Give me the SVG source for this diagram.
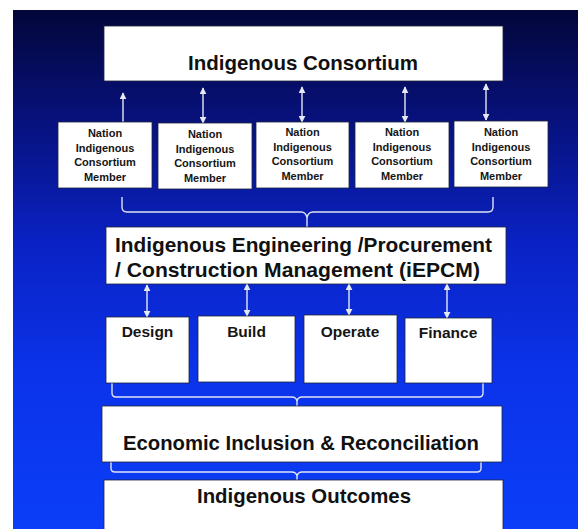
<svg xmlns="http://www.w3.org/2000/svg" width="578" height="529" viewBox="0 0 578 529">
  <defs>
    <linearGradient id="bg" x1="0" y1="0" x2="0" y2="1">
      <stop offset="0" stop-color="#03063a"/>
      <stop offset="0.22" stop-color="#07127e"/>
      <stop offset="0.45" stop-color="#0a22c4"/>
      <stop offset="0.7" stop-color="#0b33ea"/>
      <stop offset="1" stop-color="#0b3ef8"/>
    </linearGradient>
    <marker id="head" viewBox="0 0 10 10" refX="9" refY="5" markerWidth="7" markerHeight="7" markerUnits="userSpaceOnUse" orient="auto-start-reverse">
      <path d="M0,0 L10,5 L0,10 Z" fill="#e6e8f4"/>
    </marker>
    <style>
      .box { fill: #ffffff; stroke: #20243a; stroke-width: 0.8; }
      .title { font-family: "Liberation Sans", Arial, sans-serif; font-weight: bold; font-size: 20.5px; fill: #111111; }
      .member { font-family: "Liberation Sans", Arial, sans-serif; font-weight: bold; font-size: 11px; fill: #151515; text-anchor: middle; }
      .phase { font-family: "Liberation Sans", Arial, sans-serif; font-weight: bold; font-size: 15.5px; fill: #151515; text-anchor: middle; }
      .link { stroke: #e6e8f4; stroke-width: 1.4; fill: none; }
      .brace { stroke: #dfe3f5; stroke-width: 1.4; fill: none; }
    </style>
  </defs>

  <!-- page and slide background -->
  <rect x="0" y="0" width="578" height="529" fill="#ffffff"/>
  <rect x="13" y="10" width="565" height="519" fill="url(#bg)"/>

  <!-- connectors -->
  <g id="connectors">
    <line class="link" x1="123" y1="122" x2="123" y2="93" marker-end="url(#head)"/>
    <line class="link" x1="203" y1="88" x2="203" y2="123" marker-start="url(#head)" marker-end="url(#head)"/>
    <line class="link" x1="302" y1="87" x2="302" y2="122" marker-start="url(#head)" marker-end="url(#head)"/>
    <line class="link" x1="405" y1="87" x2="405" y2="122" marker-start="url(#head)" marker-end="url(#head)"/>
    <line class="link" x1="486" y1="84" x2="486" y2="120" marker-start="url(#head)" marker-end="url(#head)"/>

    <line class="link" x1="147" y1="285" x2="147" y2="317" marker-start="url(#head)" marker-end="url(#head)"/>
    <line class="link" x1="247" y1="284" x2="247" y2="316" marker-start="url(#head)" marker-end="url(#head)"/>
    <line class="link" x1="349" y1="284" x2="349" y2="315" marker-start="url(#head)" marker-end="url(#head)"/>
    <line class="link" x1="447" y1="284" x2="447" y2="318" marker-start="url(#head)" marker-end="url(#head)"/>

    <path class="brace" d="M122,197 L122,207 Q122,212 127,212 L301,212 Q306,212 307,218 L307,227 M307,218 Q308,212 313,212 L488,212 Q493,212 493,207 L493,197"/>
    <path class="brace" d="M112,383 L112,393 Q112,397 116,397 L292,397 Q296,397 297,401 L297,406 M297,401 Q298,397 302,397 L479,397 Q483,397 483,393 L483,383"/>
    <path class="brace" d="M111,462 L111,468 Q111,472 115,472 L292,472 Q296,472 297,476 L297,480 M297,476 Q298,472 302,472 L477,472 Q481,472 481,468 L481,462"/>
  </g>

  <g id="consortium">
    <rect class="box" x="104" y="26" width="399" height="55"/>
    <text class="title" x="303" y="70" text-anchor="middle" textLength="230" lengthAdjust="spacingAndGlyphs">Indigenous Consortium</text>
  </g>

  <g id="member-1">
    <rect class="box" x="58" y="122" width="94" height="66"/>
    <text class="member" x="105" y="137">Nation</text>
    <text class="member" x="105" y="152">Indigenous</text>
    <text class="member" x="105" y="166">Consortium</text>
    <text class="member" x="105" y="181">Member</text>
  </g>
  <g id="member-2">
    <rect class="box" x="158" y="123" width="94" height="66"/>
    <text class="member" x="205" y="138">Nation</text>
    <text class="member" x="205" y="153">Indigenous</text>
    <text class="member" x="205" y="167">Consortium</text>
    <text class="member" x="205" y="182">Member</text>
  </g>
  <g id="member-3">
    <rect class="box" x="256" y="122" width="93" height="66"/>
    <text class="member" x="302.5" y="136">Nation</text>
    <text class="member" x="302.5" y="151">Indigenous</text>
    <text class="member" x="302.5" y="165">Consortium</text>
    <text class="member" x="302.5" y="180">Member</text>
  </g>
  <g id="member-4">
    <rect class="box" x="355" y="122" width="94" height="66"/>
    <text class="member" x="402" y="136">Nation</text>
    <text class="member" x="402" y="151">Indigenous</text>
    <text class="member" x="402" y="165">Consortium</text>
    <text class="member" x="402" y="180">Member</text>
  </g>
  <g id="member-5">
    <rect class="box" x="454" y="121" width="94" height="66"/>
    <text class="member" x="501" y="136">Nation</text>
    <text class="member" x="501" y="151">Indigenous</text>
    <text class="member" x="501" y="165">Consortium</text>
    <text class="member" x="501" y="180">Member</text>
  </g>

  <g id="iepcm">
    <rect class="box" x="106" y="227" width="400" height="57"/>
    <text class="title" x="115" y="252" textLength="377" lengthAdjust="spacingAndGlyphs">Indigenous Engineering /Procurement</text>
    <text class="title" x="115" y="277" textLength="365" lengthAdjust="spacingAndGlyphs">/ Construction Management (iEPCM)</text>
  </g>

  <g id="design">
    <rect class="box" x="106" y="317" width="83" height="66"/>
    <text class="phase" x="147.5" y="337">Design</text>
  </g>
  <g id="build">
    <rect class="box" x="198" y="316" width="97" height="66"/>
    <text class="phase" x="246.5" y="337">Build</text>
  </g>
  <g id="operate">
    <rect class="box" x="304" y="315" width="93" height="68"/>
    <text class="phase" x="350" y="337">Operate</text>
  </g>
  <g id="finance">
    <rect class="box" x="405" y="318" width="87" height="65"/>
    <text class="phase" x="448" y="338">Finance</text>
  </g>

  <g id="inclusion">
    <rect class="box" x="102" y="406" width="400" height="56"/>
    <text class="title" x="301" y="450" text-anchor="middle" textLength="356" lengthAdjust="spacingAndGlyphs">Economic Inclusion &amp; Reconciliation</text>
  </g>

  <g id="outcomes">
    <rect class="box" x="104" y="480" width="399" height="60"/>
    <text class="title" x="304" y="503" text-anchor="middle" textLength="214" lengthAdjust="spacingAndGlyphs">Indigenous Outcomes</text>
  </g>
</svg>
